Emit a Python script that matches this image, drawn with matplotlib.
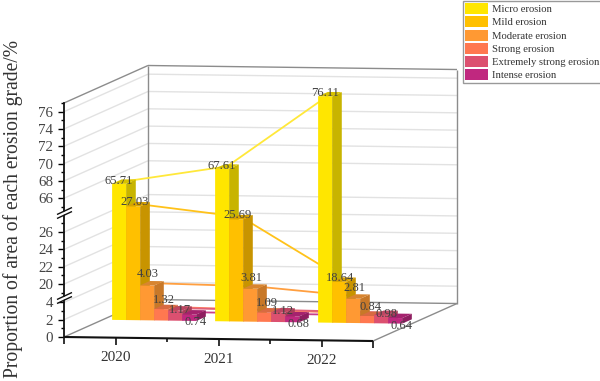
"""Pseudo-3D bar chart of erosion grades with a broken y axis."""

import numpy as np
import matplotlib

matplotlib.use("Agg")
import matplotlib.pyplot as plt
from matplotlib.patches import Patch
from matplotlib.transforms import Affine2D, IdentityTransform

years = [2020, 2021, 2022]
grades = [
    "Micro erosion",
    "Mild erosion",
    "Moderate erosion",
    "Strong erosion",
    "Extremely strong erosion",
    "Intense erosion",
]
micro = [65.71, 67.61, 76.11]
mild = [27.03, 25.69, 18.64]
moderate = [4.03, 3.81, 2.81]
strong = [1.32, 1.09, 0.84]
extreme = [1.17, 1.12, 0.98]
intense = [0.74, 0.68, 0.64]
series = [micro, mild, moderate, strong, extreme, intense]

major_ticks = [0, 2, 4, 20, 22, 24, 26, 66, 68, 70, 72, 74, 76]
minor_ticks = [1, 3, 19, 21, 23, 25, 27, 65, 67, 69, 71, 73, 75, 77]

colors = ["#FFE600", "#FFC000", "#FF9933", "#FF7850", "#DC5070", "#C0287F"]
side_colors = ["#C8B400", "#C89400", "#C87828", "#C86038", "#A83E58", "#8E1E60"]
top_colors = ["#D8C200", "#D8A200", "#D88530", "#D86A42", "#BC4662", "#A5226E"]
label_offsets = [(0, 3), (1, 4), (1, 11), (3, 9), (5, 1), (6, -8)]

plt.rcParams["font.family"] = "Liberation Serif"

# piecewise scale: the flat parts of the mapping are the two axis breaks
scale_vals = [0, 4.5, 18.4, 28.2, 64.3, 77]
scale_pos = [0, 39, 39.01, 124, 124.01, 234]


def forward(v):
    return np.interp(v, scale_vals, scale_pos)


def inverse(s):
    return np.interp(s, scale_pos, scale_vals)


fig = plt.figure(figsize=(6, 3.81), dpi=100)
ax = fig.add_axes([64 / 600, 44 / 381, 309 / 600, 234 / 381])
ax.set_yscale("function", functions=(forward, inverse))
ax.set_xlim(2019.5, 2022.5)
ax.set_ylim(0, 77)
ax.autoscale(False)
ax.patch.set_visible(False)
for side in ax.spines.values():
    side.set_visible(False)

shear = Affine2D.from_values(1, -0.013, 0, 1, 0, 0.013 * 64)
pixels = IdentityTransform()


def depth(d):
    """Transform from data to display for a given depth (0 front, 1 back)."""
    return ax.transData + shear + Affine2D().translate(84 * d, 37.5 * d)


def project(x, v, d=0.0):
    return depth(d).transform((x, v))


def seg(p, q, color, lw=1.0, z=1):
    ax.plot([p[0], q[0]], [p[1], q[1]], color=color, lw=lw, zorder=z,
            transform=pixels, clip_on=False, solid_capstyle="butt")


# walls
x0, x1 = ax.get_xlim()
for v in major_ticks[1:]:
    seg(project(x0, v, 0), project(x0, v, 1), "#e2e2e2", z=1)
    seg(project(x0, v, 1), project(x1, v, 1), "#e2e2e2", z=1)
edge = "#8c8c8c"
seg(project(x0, 0, 0), project(x0, 0, 1), edge)
seg(project(x1, 0, 0), project(x1, 0, 1), edge)
seg(project(x0, 0, 1), project(x1, 0, 1), edge)
seg(project(x0, 77, 0), project(x0, 77, 1), edge)
seg(project(x0, 77, 1), project(x1, 77, 1), edge)
seg(project(x0, 0, 1), project(x0, 77, 1), edge)
seg(project(x1, 0, 1), project(x1, 77, 1), edge)

# bars and the lines joining them
bar_w = 0.136
d_front, d_back, d_line = 0.46, 0.575, 0.52
line_colors = ["#FFE83A", "#FFC21A", "#FF9F40", "#FF8060", "#E06078", "#C8408C"]
z = 5
for i, values in enumerate(series):
    shift = (i - 2.5) * bar_w
    pts = [project(y + shift, v, d_line) for y, v in zip(years, values)]
    ax.plot([p[0] for p in pts], [p[1] for p in pts], color=line_colors[i],
            lw=1.3, zorder=3, transform=pixels, clip_on=False)

for j, year in enumerate(years):
    for i, values in enumerate(series):
        v = values[j]
        left = year + (i - 3) * bar_w
        right = left + bar_w
        ax.bar(left, v, bar_w, align="edge", color=colors[i], zorder=z,
               transform=depth(d_front), clip_on=False, linewidth=0)
        side = [project(right, 0, d_front), project(right, v, d_front),
                project(right, v, d_back), project(right, 0, d_back)]
        top = [project(left, v, d_front), project(right, v, d_front),
               project(right, v, d_back), project(left, v, d_back)]
        ax.fill(*zip(*side), color=side_colors[i], zorder=z, lw=0,
                transform=pixels, clip_on=False)
        ax.fill(*zip(*top), color=top_colors[i], zorder=z, lw=0,
                transform=pixels, clip_on=False)
        z += 1
        px, py = project(year + (i - 2.5) * bar_w, v, d_front)
        dx, dy = label_offsets[i]
        ax.text(px + dx, py + dy, f"{v:.2f}", fontsize=9, color="#404040",
                ha="center", va="center", transform=pixels, zorder=60)

# x axis, drawn by hand because it slopes
seg(project(x0, 0), project(x1, 0), "#111111", lw=1.5, z=4)
for t in np.arange(x0, x1 + 0.01, 0.5):
    p = project(t, 0)
    length = 7 if t in years or t in (x0, x1) else 4
    seg(p, (p[0], p[1] - length), "#111111", lw=1.2, z=4)
for year in years:
    p = project(year, 0)
    ax.text(p[0], p[1] - 20, str(year), fontsize=11, color="#333333",
            ha="center", va="center", transform=pixels)

# y axis
ax.set_yticks(major_ticks)
ax.set_yticks(minor_ticks, minor=True)
ax.set_xticks([])
ax.tick_params(axis="y", which="major", length=4.3, width=1, pad=3.5,
               labelsize=10.8, labelcolor="#444444")
ax.tick_params(axis="y", which="minor", length=2.2, width=1)
ax.plot([x0, x0], [0, 77], color="#111111", lw=1.3, zorder=4, clip_on=False)
for v in (4.5, 28.2):
    p = project(x0, v)
    ax.fill([p[0] - 7, p[0] + 8, p[0] + 8, p[0] - 7],
            [p[1] - 5, p[1] + 2, p[1] + 5, p[1] - 2],
            color="white", lw=0, transform=pixels, clip_on=False, zorder=4.5)
    for off in (-2, 2):
        seg((p[0] - 7, p[1] - 3.5 + off), (p[0] + 8, p[1] + 3.5 + off),
            "#111111", lw=1, z=4.6)

fig.text(13 / 600, 1 - 209 / 381, "Proportion of area of each erosion grade/%",
         rotation=90, fontsize=14.1, color="#333333", ha="center", va="center")

handles = [Patch(facecolor=c, edgecolor="none") for c in colors]
fig.legend(handles, grades, loc="upper left",
           bbox_to_anchor=(463 / 600, 1 - 1 / 381), fontsize=7.7, ncol=1,
           frameon=True, fancybox=False, edgecolor="#999999", framealpha=1,
           borderpad=0.2, borderaxespad=0, labelspacing=0.2, handlelength=2.1,
           handleheight=1.2, handletextpad=0.4, labelcolor="#333333")

fig.savefig("out.png", dpi=100)
